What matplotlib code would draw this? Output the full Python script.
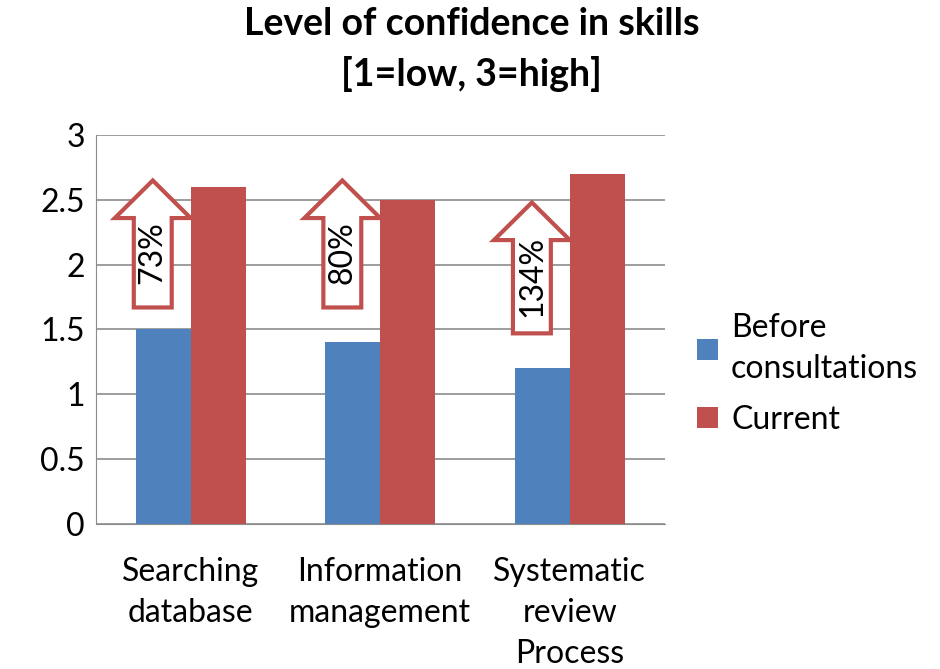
import matplotlib
matplotlib.use('Agg')
import matplotlib.pyplot as plt
import numpy as np
from matplotlib.patches import FancyArrow

categories = ['Searching\ndatabase', 'Information\nmanagement', 'Systematic\nreview\nProcess']
before = [1.5, 1.4, 1.2]
current = [2.6, 2.5, 2.7]
increase_labels = ['73%', '80%', '134%']
arrow_bottom = [1.67, 1.67, 1.47]
arrow_top = [2.65, 2.65, 2.48]

BLUE = '#4F81BD'
RED = '#C0504D'

plt.rcParams['font.family'] = ['Lato', 'DejaVu Sans']

fig = plt.figure(figsize=(9.4, 6.69), dpi=100)
ax = fig.add_axes([0.102, 0.217, 0.605, 0.581])

x = np.arange(len(categories))
w = 0.29
ax.bar(x - w / 2, before, width=w, color=BLUE, label='Before\nconsultations', zorder=2)
ax.bar(x + w / 2, current, width=w, color=RED, label='Current', zorder=2)

# block arrows showing the increase
for i in range(len(categories)):
    cx = x[i] - 0.2
    length = arrow_top[i] - arrow_bottom[i]
    arr = FancyArrow(cx, arrow_bottom[i], 0, length, width=0.2, head_width=0.4,
                     head_length=0.29, length_includes_head=True,
                     facecolor='white', edgecolor=RED, linewidth=3, zorder=3)
    ax.add_patch(arr)
    mid = arrow_bottom[i] + (length - 0.29) / 2 + 0.08
    ax.text(cx, mid, increase_labels[i], rotation=90, ha='center', va='center',
            fontsize=23, zorder=4)

ax.set_xlim(-0.5, 2.5)
ax.set_ylim(0, 3)
ax.set_yticks([0, 0.5, 1, 1.5, 2, 2.5, 3])
ax.set_yticklabels(['0', '0.5', '1', '1.5', '2', '2.5', '3'])
ax.set_xticks(x)
ax.set_xticklabels(categories, linespacing=1.45)
ax.tick_params(axis='both', labelsize=23, length=0)
ax.tick_params(axis='x', pad=24)
ax.tick_params(axis='y', pad=8)
ax.yaxis.grid(True, color='#8C8C8C', linewidth=1.2, zorder=0)
ax.set_axisbelow(True)
for s in ['top', 'right']:
    ax.spines[s].set_visible(False)
ax.spines['left'].set_color('#8C8C8C')
ax.spines['bottom'].set_color('#8C8C8C')

fig.suptitle('Level of confidence in skills\n[1=low, 3=high]', x=0.502, y=0.99,
             fontsize=27, fontweight='bold', linespacing=1.5)

leg = fig.legend(loc='upper left', bbox_to_anchor=(0.742, 0.532), frameon=False,
                 fontsize=23, handlelength=0.65, handleheight=0.65, handletextpad=0.4,
                 labelspacing=0.65, borderaxespad=0, borderpad=0)
for t in leg.get_texts():
    t.set_linespacing(1.45)

fig.savefig('out.png', dpi=100)
